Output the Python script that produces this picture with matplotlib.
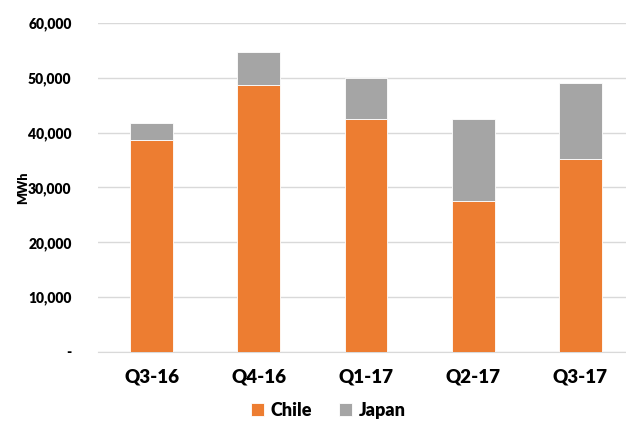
import numpy as np
import matplotlib.pyplot as plt
from matplotlib import rcParams
from matplotlib.ticker import FuncFormatter

rcParams['font.family'] = ['Lato', 'DejaVu Sans']
rcParams['font.weight'] = 'heavy'

quarters = ['Q3-16', 'Q4-16', 'Q1-17', 'Q2-17', 'Q3-17']
chile = [38600, 48650, 42430, 27570, 35190]
japan = [3100, 6030, 7520, 14860, 13900]

orange = '#ED7D31'
grey = '#A5A5A5'

fig = plt.figure(figsize=(6.26, 4.21), dpi=100)
ax = fig.add_axes([0.1564, 0.1639, 0.8564, 0.7815])

x = np.arange(len(quarters))
ax.bar(x, chile, 0.40, color=orange, edgecolor='white', linewidth=0.6, label='Chile', zorder=3)
ax.bar(x, japan, 0.40, bottom=chile, color=grey, edgecolor='white', linewidth=0.6, label='Japan', zorder=3)

ax.set_xlim(-0.5, len(quarters) - 0.5)
ax.set_ylim(0, 60000)
ax.set_yticks(np.arange(0, 60001, 10000))
ax.yaxis.set_major_formatter(FuncFormatter(lambda v, p: '-' if v == 0 else f'{int(v):,}'))
ax.grid(axis='y', color='#D9D9D9', linewidth=1, zorder=0)

ax.set_xticks(x)
ax.set_xticklabels(quarters, fontsize=13.5, fontweight='heavy')
for lbl in ax.get_yticklabels():
    lbl.set_fontsize(10)
    lbl.set_fontweight('heavy')
ax.tick_params(axis='y', length=0, pad=19)
ax.tick_params(axis='x', length=0, pad=12)

for s in ['top', 'right', 'left']:
    ax.spines[s].set_visible(False)
ax.spines['bottom'].set_color('#D9D9D9')

ax.set_ylabel('MWh', fontsize=9, fontweight='heavy')
ax.yaxis.set_label_coords(-0.128, 0.5)

# legend sits right at the bottom edge
fig.legend(loc='center', bbox_to_anchor=(0.525, 0.026), ncol=2, frameon=False,
           prop={'size': 13, 'weight': 'heavy'}, handlelength=0.7, handleheight=0.7,
           handletextpad=0.4, columnspacing=1.5)

fig.savefig('out.png', dpi=100)
